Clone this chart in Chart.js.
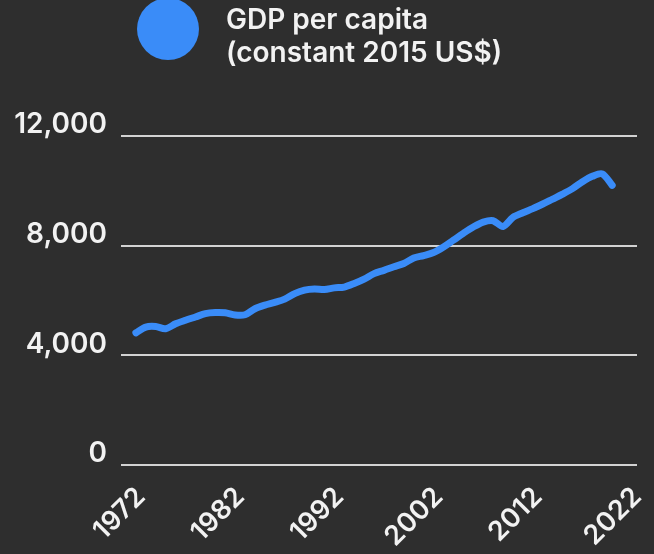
<!DOCTYPE html>
<html>
<head>
<meta charset="utf-8">
<script src="https://cdn.jsdelivr.net/npm/chart.js@4"></script>
<style>
	html, body { margin: 0; background: #2e2e2e; }
	#wrap { width: 654px; height: 554px; position: relative; }
</style>
</head>
<body>
<div id="wrap"><canvas id="gdpChart"></canvas></div>
<script>
const years = [
	1972, 1973, 1974, 1975, 1976, 1977, 1978, 1979, 1980, 1981,
	1982, 1983, 1984, 1985, 1986, 1987, 1988, 1989, 1990, 1991,
	1992, 1993, 1994, 1995, 1996, 1997, 1998, 1999, 2000, 2001,
	2002, 2003, 2004, 2005, 2006, 2007, 2008, 2009, 2010, 2011,
	2012, 2013, 2014, 2015, 2016, 2017, 2018, 2019, 2020,
]
const gdpPerCapita = [
	4820, 5030, 5050, 4970, 5150, 5280, 5400, 5520, 5560, 5550,
	5470, 5480, 5700, 5830, 5930, 6050, 6250, 6380, 6420, 6400,
	6460, 6490, 6620, 6780, 6980, 7100, 7230, 7350, 7550, 7640,
	7750, 7950, 8200, 8450, 8680, 8860, 8910, 8700, 9030, 9200,
	9350, 9520, 9700, 9880, 10080, 10330, 10530, 10620, 10200,
]
const tickYears = [1972, 1982, 1992, 2002, 2012, 2022]
const yTicks = [0, 4000, 8000, 12000]
const seriesLabel = ['GDP per capita', '(constant 2015 US$)']

const lineColor = '#3a8cf8'
const textColor = '#f2f2f2'
const gridColor = '#d2d2d2'

// hand-drawn legend: big dot with the two-line series name next to it
const dotLegend = {
	id: 'dotLegend',
	afterDraw(chart) {
		const ctx = chart.ctx
		const ds = chart.data.datasets[0]
		ctx.save()
		ctx.fillStyle = ds.borderColor
		ctx.beginPath()
		ctx.arc(168, 29, 31, 0, Math.PI * 2)
		ctx.fill()
		ctx.fillStyle = textColor
		ctx.font = '600 28px Inter'
		ctx.textBaseline = 'alphabetic'
		ds.label.forEach((line, i) => ctx.fillText(line, 226, 29 + i * 33))
		ctx.restore()
	},
}

const ctx = document.getElementById('gdpChart').getContext('2d')
new Chart(ctx, {
	type: 'line',
	data: {
		datasets: [
			{
				label: seriesLabel,
				data: years.map((y, i) => ({ x: y, y: gdpPerCapita[i] })),
				borderColor: lineColor,
				borderWidth: 7,
				borderCapStyle: 'round',
				borderJoinStyle: 'round',
				tension: 0.3,
				pointRadius: 0,
				fill: false,
			},
		],
	},
	options: {
		responsive: true,
		maintainAspectRatio: false,
		animation: false,
		layout: {
			padding: { top: 136, right: 17, bottom: 0, left: 0 },
		},
		plugins: {
			legend: { display: false },
			tooltip: { enabled: false },
		},
		scales: {
			x: {
				type: 'linear',
				min: 1970.5,
				max: 2022.5,
				afterBuildTicks: scale => {
					scale.ticks = tickYears.map(v => ({ value: v }))
				},
				afterFit: scale => {
					// rotated labels only reach left, keep the plot wide
					scale.height = 89
					scale.paddingLeft = 0
					scale.paddingRight = 0
				},
				grid: { display: false },
				border: { display: false },
				ticks: {
					color: textColor,
					font: { family: 'Inter', size: 27, weight: '600' },
					minRotation: 45,
					maxRotation: 45,
					padding: 8,
					labelOffset: 5,
					autoSkip: false,
					callback: v => String(v),
				},
			},
			y: {
				min: 0,
				max: 12000,
				afterBuildTicks: scale => {
					scale.ticks = yTicks.map(v => ({ value: v }))
				},
				afterFit: scale => {
					scale.width = 121
				},
				grid: {
					color: gridColor,
					lineWidth: 2,
					drawTicks: false,
				},
				border: { display: false },
				ticks: {
					color: textColor,
					font: { family: 'Inter', size: 28, weight: '600' },
					padding: 14,
					labelOffset: -11,
					callback: v => v.toLocaleString('en-US'),
				},
			},
		},
	},
	plugins: [dotLegend],
})
</script>
</body>
</html>
